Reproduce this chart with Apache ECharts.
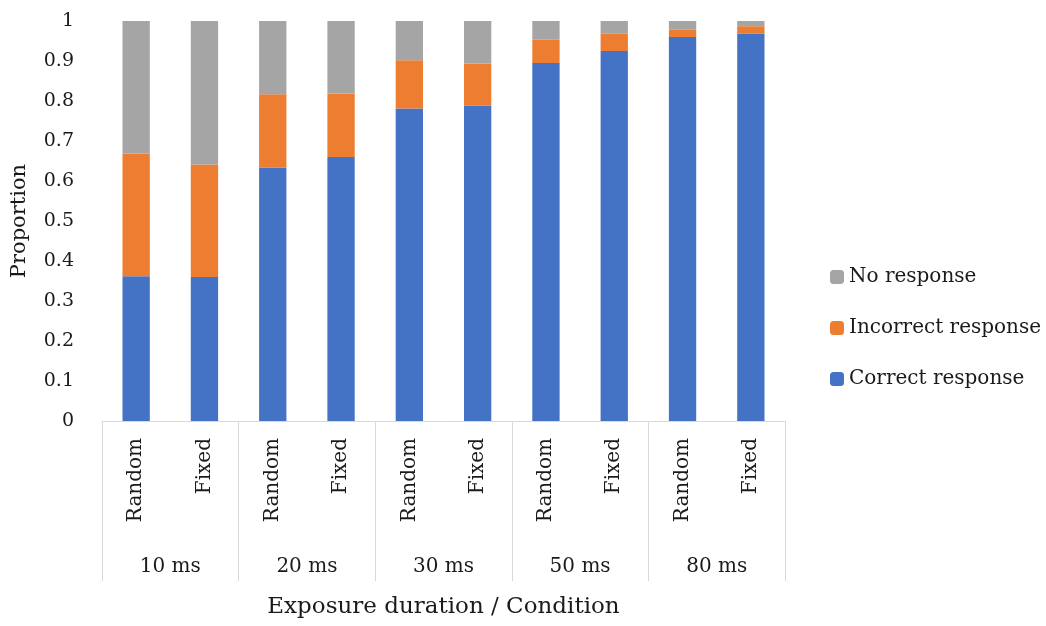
<!DOCTYPE html>
<html>
<head>
<meta charset="utf-8">
<script src="https://cdn.jsdelivr.net/npm/echarts@6/dist/echarts.min.js"></script>
<style>
html, body { margin: 0; padding: 0; background: #fff; }
#chart { width: 1046px; height: 626px; }
</style>
</head>
<body>
<div id="chart"></div>
<script>
var conditions = ['Random', 'Fixed', 'Random', 'Fixed', 'Random', 'Fixed', 'Random', 'Fixed', 'Random', 'Fixed'];
var durations = ['10 ms', '20 ms', '30 ms', '50 ms', '80 ms'];
var correct = [0.362, 0.360, 0.634, 0.660, 0.781, 0.789, 0.895, 0.925, 0.960, 0.968];
var incorrect = [0.307, 0.281, 0.183, 0.159, 0.121, 0.105, 0.059, 0.043, 0.018, 0.019];
var noResponse = [0.331, 0.359, 0.183, 0.181, 0.098, 0.106, 0.046, 0.032, 0.022, 0.013];
var yTicks = [0, 0.1, 0.2, 0.3, 0.4, 0.5, 0.6, 0.7, 0.8, 0.9, 1];

var font = 'DejaVu Serif';
var textColor = '#1a1a1a';
var lineColor = '#d9d9d9';

var myChart = echarts.init(document.getElementById('chart'));

var option = {
	animation : false,
	textStyle : { fontFamily : font },
	grid : { left : 102, right : 261, top : 21, bottom : 205, containLabel : false, outerBoundsMode : 'none' },
	legend : {
		orient : 'vertical',
		left : 825,
		top : 262,
		itemWidth : 14,
		itemHeight : 14,
		itemGap : 31,
		data : [ 'No response', 'Incorrect response', 'Correct response' ],
		textStyle : { fontFamily : font, fontSize : 20, color : textColor }
	},
	xAxis : [ {
		type : 'category',
		data : conditions,
		axisLine : { lineStyle : { color : lineColor } },
		axisTick : { show : false },
		axisLabel : {
			interval : 0,
			rotate : 90,
			margin : 17,
			fontSize : 20,
			color : textColor,
			fontFamily : font
		}
	}, {
		type : 'category',
		data : durations,
		position : 'bottom',
		axisLine : { show : false },
		axisTick : { show : true, length : 160, lineStyle : { color : lineColor } },
		axisLabel : { margin : 136, fontSize : 20, color : textColor, fontFamily : font },
		name : 'Exposure duration / Condition',
		nameLocation : 'middle',
		nameGap : 175,
		nameTextStyle : { fontSize : 23, color : textColor, fontFamily : font }
	} ],
	yAxis : {
		type : 'value',
		min : 0,
		max : 1,
		interval : 0.1,
		axisLine : { show : false },
		axisTick : { show : false },
		splitLine : { show : false },
		axisLabel : {
			margin : 28,
			fontSize : 19,
			color : textColor,
			fontFamily : font,
			formatter : function(v) {
				var t = yTicks.filter(function(k) { return Math.abs(k - v) < 1e-6; });
				return t.length ? String(t[0]) : '';
			}
		},
		name : 'Proportion',
		nameLocation : 'middle',
		nameGap : 72,
		nameTextStyle : { fontSize : 21, color : textColor, fontFamily : font }
	},
	series : [ {
		name : 'Correct response',
		type : 'bar',
		stack : 'p',
		barCategoryGap : '60%',
		itemStyle : { color : '#4472C4' },
		data : correct
	}, {
		name : 'Incorrect response',
		type : 'bar',
		stack : 'p',
		itemStyle : { color : '#ED7D31' },
		data : incorrect
	}, {
		name : 'No response',
		type : 'bar',
		stack : 'p',
		itemStyle : { color : '#A5A5A5' },
		data : noResponse
	} ]
};
myChart.setOption(option);
</script>
</body>
</html>
